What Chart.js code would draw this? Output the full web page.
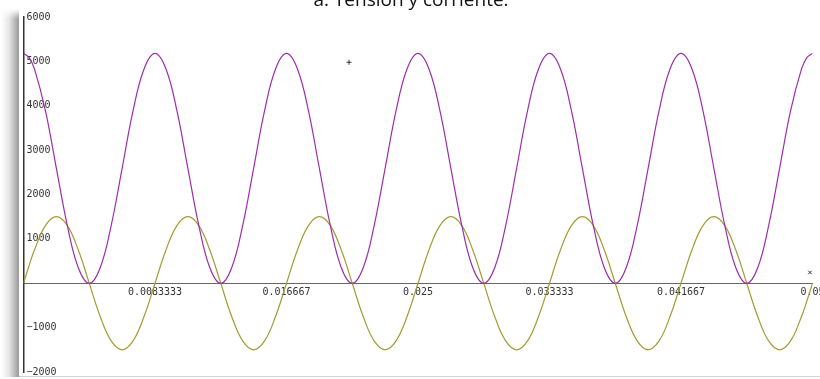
<!DOCTYPE html>
<html>
<head>
<meta charset="utf-8">
<script src="https://cdn.jsdelivr.net/npm/chart.js@4.4.1/dist/chart.umd.min.js"></script>
<style>
  html, body { margin: 0; padding: 0; background: #fff; width: 820px; height: 379px; overflow: hidden; }
  #shadow { position: absolute; left: 1px; top: 9px; width: 18px; height: 368px;
            background: linear-gradient(to right, rgba(0,0,0,0) 0%, rgba(0,0,0,0.10) 45%, rgba(0,0,0,0.40) 100%);
            -webkit-mask-image: linear-gradient(to bottom, transparent 0, #000 10px);
            mask-image: linear-gradient(to bottom, transparent 0, #000 10px); }
  #panel { position: absolute; left: 19px; top: 13px; width: 840px; height: 363px; background: #fff;
           border-bottom: 1px solid #d2d2d2; }
  #wrap { position: absolute; left: 0; top: 0; width: 860px; height: 379px; }
  #title { position: absolute; left: 1px; top: -10px; width: 820px; text-align: center;
           font: 19px "Open Sans", sans-serif; line-height: 19px; color: #111; white-space: nowrap; }
</style>
</head>
<body>
<div id="shadow"></div>
<div id="panel"></div>
<div id="wrap"><canvas id="chart" width="860" height="379"></canvas></div>
<div id="title">a. Tensión y corriente.</div>
<script>
// sample instants (s)
const times = [
  0, 0.000347, 0.000694, 0.001389, 0.002083, 0.002778, 0.003472, 0.004167, 0.004861, 0.005556, 0.00625, 0.006944, 0.007639,
  0.008333, 0.009028, 0.009722, 0.010417, 0.011111, 0.011806, 0.0125, 0.013194, 0.013889, 0.014583, 0.015278, 0.015972,
  0.016667, 0.017361, 0.018056, 0.01875, 0.019444, 0.020139, 0.020833, 0.021528, 0.022222, 0.022917, 0.023611, 0.024306,
  0.025, 0.025694, 0.026389, 0.027083, 0.027778, 0.028472, 0.029167, 0.029861, 0.030556, 0.03125, 0.031944, 0.032639,
  0.033333, 0.034028, 0.034722, 0.035417, 0.036111, 0.036806, 0.0375, 0.038194, 0.038889, 0.039583, 0.040278, 0.040972,
  0.041667, 0.042361, 0.043056, 0.04375, 0.044444, 0.045139, 0.045833, 0.046528, 0.047222, 0.047917, 0.048611, 0.049306,
  0.049653, 0.05
];

// purple trace
const tension = [
  5180, 5090, 4830, 3890, 2590, 1300, 350, 0, 350, 1300, 2590, 3890, 4830,
  5180, 4830, 3890, 2590, 1300, 350, 0, 350, 1300, 2590, 3890, 4830,
  5180, 4830, 3890, 2590, 1300, 350, 0, 350, 1300, 2590, 3890, 4830,
  5180, 4830, 3890, 2590, 1300, 350, 0, 350, 1300, 2590, 3890, 4830,
  5180, 4830, 3890, 2590, 1300, 350, 0, 350, 1300, 2590, 3890, 4830,
  5180, 4830, 3890, 2590, 1300, 350, 0, 350, 1300, 2590, 3890, 4830,
  5090, 5180
];

// olive trace
const corriente = [
  0, 390, 750, 1300, 1500, 1300, 750, 0, -750, -1300, -1500, -1300, -750,
  0, 750, 1300, 1500, 1300, 750, 0, -750, -1300, -1500, -1300, -750,
  0, 750, 1300, 1500, 1300, 750, 0, -750, -1300, -1500, -1300, -750,
  0, 750, 1300, 1500, 1300, 750, 0, -750, -1300, -1500, -1300, -750,
  0, 750, 1300, 1500, 1300, 750, 0, -750, -1300, -1500, -1300, -750,
  0, 750, 1300, 1500, 1300, 750, 0, -750, -1300, -1500, -1300, -750,
  -390, 0
];

// small cursor marks
const markerTimes = [0.02063, 0.04984];
const markerValues = [4980, 243];
const markerStyles = ['cross', 'crossRot'];

// x axis ticks and their labels
const xTickValues = [0.0083333, 0.016667, 0.025, 0.033333, 0.041667, 0.05];
const xTickLabels = ['0.0083333', '0.016667', '0.025', '0.033333', '0.041667', '0.05'];

const monoFont = { family: '"DejaVu Sans Mono", monospace', size: 10 };

new Chart(document.getElementById('chart'), {
  type: 'line',
  data: {
    datasets: [
      {
        data: times.map((t, i) => ({ x: t, y: tension[i] })),
        borderColor: '#9c2eaa', borderWidth: 1.2, pointRadius: 0, tension: 0.4, fill: false
      },
      {
        data: times.map((t, i) => ({ x: t, y: corriente[i] })),
        borderColor: '#a29c32', borderWidth: 1.2, pointRadius: 0, tension: 0.4, fill: false
      },
      {
        data: markerTimes.map((t, i) => ({ x: t, y: markerValues[i] })),
        showLine: false, pointStyle: markerStyles, pointRadius: 2.5,
        borderColor: '#333', borderWidth: 1, backgroundColor: '#333'
      }
    ]
  },
  options: {
    responsive: false,
    animation: false,
    events: [],
    layout: { padding: { left: 23.5, top: 17, right: 47.5, bottom: 7 } },
    plugins: { legend: { display: false }, tooltip: { enabled: false }, title: { display: false } },
    scales: {
      x: {
        type: 'linear', min: 0, max: 0.05, position: { y: 0 },
        grid: { display: false, drawTicks: false },
        border: { color: '#666', width: 1 },
        afterBuildTicks: s => { s.ticks = xTickValues.map(v => ({ value: v })); },
        afterFit: s => { s.paddingLeft = 0; s.paddingRight = 0; s.paddingTop = 0; s.paddingBottom = 0; },
        ticks: {
          autoSkip: false, maxRotation: 0, minRotation: 0, padding: 3,
          color: '#333', font: monoFont,
          callback: (v, i) => xTickLabels[i]
        }
      },
      y: {
        type: 'linear', min: -2000, max: 6000, position: 'left',
        grid: { display: false, drawTicks: false },
        border: { color: '#333', width: 1.5 },
        afterFit: s => { s.width = 0; s.paddingTop = 0; s.paddingBottom = 0; },
        ticks: {
          stepSize: 1000, mirror: true, padding: 3,
          color: '#333', font: monoFont,
          callback: v => v === 0 ? '' : (v < 0 ? '\u2212' + Math.abs(v) : String(v))
        }
      }
    }
  }
});
</script>
</body>
</html>
